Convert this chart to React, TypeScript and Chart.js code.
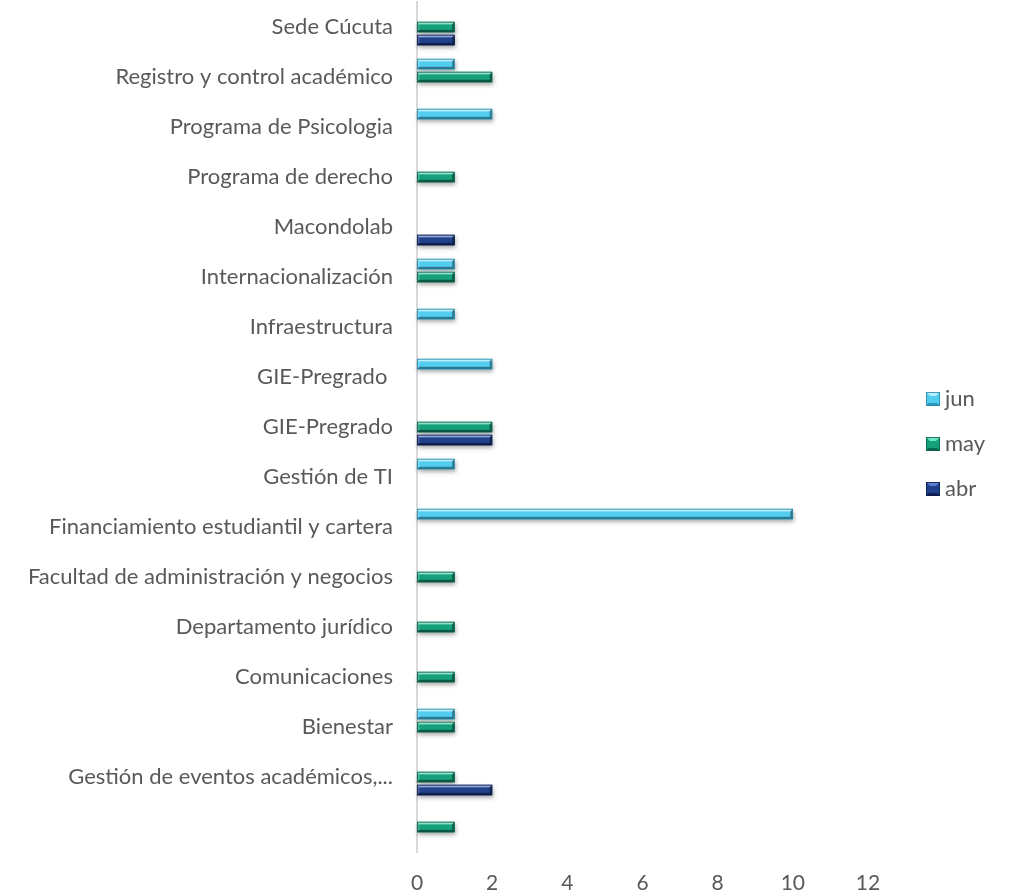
import React, { useEffect, useRef } from "react";
import { Chart, registerables } from "chart.js";

Chart.register(...registerables);

const categories: string[] = [
  "Sede Cúcuta",
  "Registro y control académico",
  "Programa de Psicologia",
  "Programa de derecho",
  "Macondolab",
  "Internacionalización",
  "Infraestructura",
  "GIE-Pregrado ",
  "GIE-Pregrado",
  "Gestión de TI",
  "Financiamiento estudiantil y cartera",
  "Facultad de administración y negocios",
  "Departamento jurídico",
  "Comunicaciones",
  "Bienestar",
  "Gestión de eventos académicos,...",
  "",
];

const junValues: (number | null)[] = [null, 1, 2, null, null, 1, 1, 2, null, 1, 10, null, null, null, 1, null, null];
const mayValues: (number | null)[] = [1, 2, null, 1, null, 1, null, null, 2, null, null, 1, 1, 1, 1, 1, 1];
const abrValues: (number | null)[] = [1, null, null, null, 1, null, null, null, 2, null, null, null, null, null, null, 2, null];

const xTicks: number[] = [0, 2, 4, 6, 8, 10, 12];

const FONT = "Lato, 'Open Sans', sans-serif";
const TEXT = "#595959";

const palette: Record<string, { main: string; light: string; dark: string; border: string }> = {
  jun: { main: "#52cdef", light: "#b4f0ff", dark: "#2796bb", border: "#2a86a6" },
  may: { main: "#15a07b", light: "#6ae6c4", dark: "#0a654d", border: "#0b5f49" },
  abr: { main: "#21418d", light: "#5a7fd0", dark: "#0d2156", border: "#0b1c47" },
};

function drawBevelRect(ctx: CanvasRenderingContext2D, l: number, t: number, r: number, b: number, c: { main: string; light: string; dark: string; border: string }) {
  const w = r - l;
  const h = b - t;
  if (w <= 0 || h <= 0) return;
  const g = ctx.createLinearGradient(0, t, 0, b);
  g.addColorStop(0, c.light);
  g.addColorStop(0.35, c.main);
  g.addColorStop(0.75, c.main);
  g.addColorStop(1, c.dark);
  ctx.fillStyle = g;
  ctx.fillRect(l, t, w, h);
  const bv = Math.min(2.5, h / 3, w / 3);
  ctx.fillStyle = "rgba(255,255,255,0.45)";
  ctx.beginPath();
  ctx.moveTo(l, t); ctx.lineTo(r, t); ctx.lineTo(r - bv, t + bv); ctx.lineTo(l + bv, t + bv); ctx.closePath(); ctx.fill();
  ctx.fillStyle = "rgba(255,255,255,0.2)";
  ctx.beginPath();
  ctx.moveTo(l, t); ctx.lineTo(l + bv, t + bv); ctx.lineTo(l + bv, b - bv); ctx.lineTo(l, b); ctx.closePath(); ctx.fill();
  ctx.fillStyle = "rgba(0,0,0,0.35)";
  ctx.beginPath();
  ctx.moveTo(l, b); ctx.lineTo(r, b); ctx.lineTo(r - bv, b - bv); ctx.lineTo(l + bv, b - bv); ctx.closePath(); ctx.fill();
  ctx.fillStyle = "rgba(0,0,0,0.4)";
  ctx.beginPath();
  ctx.moveTo(r, t); ctx.lineTo(r, b); ctx.lineTo(r - bv, b - bv); ctx.lineTo(r - bv, t + bv); ctx.closePath(); ctx.fill();
  ctx.strokeStyle = c.border;
  ctx.lineWidth = 0.8;
  ctx.strokeRect(l + 0.4, t + 0.4, w - 0.8, h - 0.8);
}

const bevelPlugin = {
  id: "bevelBars",
  beforeDatasetsDraw(chart: any) {
    const ctx: CanvasRenderingContext2D = chart.ctx;
    chart.data.datasets.forEach((ds: any, i: number) => {
      const meta = chart.getDatasetMeta(i);
      meta.data.forEach((el: any, j: number) => {
        if (ds.data[j] == null) return;
        const p = el.getProps(["x", "y", "base", "height"], true);
        ctx.save();
        ctx.shadowColor = "rgba(0,0,0,0.35)";
        ctx.shadowBlur = 4;
        ctx.shadowOffsetX = 1;
        ctx.shadowOffsetY = 2.5;
        ctx.fillStyle = "#ffffff";
        ctx.fillRect(Math.min(p.base, p.x), p.y - p.height / 2, Math.abs(p.x - p.base), p.height);
        ctx.restore();
      });
    });
  },
  afterDatasetsDraw(chart: any) {
    const ctx: CanvasRenderingContext2D = chart.ctx;
    chart.data.datasets.forEach((ds: any, i: number) => {
      const meta = chart.getDatasetMeta(i);
      const c = palette[ds.label];
      meta.data.forEach((el: any, j: number) => {
        if (ds.data[j] == null) return;
        const p = el.getProps(["x", "y", "base", "height"], true);
        ctx.save();
        drawBevelRect(ctx, Math.min(p.base, p.x), p.y - p.height / 2, Math.max(p.base, p.x), p.y + p.height / 2, c);
        ctx.restore();
      });
    });
  },
};

const legendPlugin = {
  id: "sideLegend",
  afterDraw(chart: any) {
    const ctx: CanvasRenderingContext2D = chart.ctx;
    const x0 = 926;
    const yStart = 399;
    const gap = 45;
    ctx.save();
    ctx.font = `22px ${FONT}`;
    ctx.textBaseline = "middle";
    ctx.textAlign = "left";
    chart.data.datasets.forEach((ds: any, i: number) => {
      const y = yStart + i * gap;
      const c = palette[ds.label];
      const s = 14;
      const l = x0, t = y - s / 2, r = x0 + s, b = y + s / 2;
      ctx.fillStyle = c.main;
      ctx.fillRect(l, t, s, s);
      const cx = l + s / 2, cy = t + s / 2;
      ctx.fillStyle = c.light;
      ctx.beginPath(); ctx.moveTo(l, t); ctx.lineTo(r, t); ctx.lineTo(cx, cy); ctx.closePath(); ctx.fill();
      ctx.fillStyle = c.dark;
      ctx.beginPath(); ctx.moveTo(l, b); ctx.lineTo(r, b); ctx.lineTo(cx, cy); ctx.closePath(); ctx.fill();
      ctx.fillStyle = c.main;
      ctx.fillRect(l + 3, t + 4, s - 6, s - 7);
      ctx.strokeStyle = c.border;
      ctx.lineWidth = 0.8;
      ctx.strokeRect(l + 0.4, t + 0.4, s - 0.8, s - 0.8);
      ctx.fillStyle = TEXT;
      ctx.fillText(ds.label, x0 + 19, y);
    });
    ctx.restore();
  },
};

export default function App() {
  const ref = useRef<HTMLCanvasElement | null>(null);
  useEffect(() => {
    if (!ref.current) return;
    const chart = new Chart(ref.current, {
      type: "bar",
      data: {
        labels: categories,
        datasets: [
          { label: "jun", data: junValues, backgroundColor: palette.jun.main, borderWidth: 0 },
          { label: "may", data: mayValues, backgroundColor: palette.may.main, borderWidth: 0 },
          { label: "abr", data: abrValues, backgroundColor: palette.abr.main, borderWidth: 0 },
        ],
      },
      options: {
        indexAxis: "y",
        responsive: false,
        animation: false,
        devicePixelRatio: 1,
        categoryPercentage: 0.78,
        barPercentage: 0.8,
        layout: { padding: { top: 2, right: 147, bottom: 0, left: 0 } },
        plugins: {
          legend: { display: false },
          tooltip: { enabled: false },
        },
        scales: {
          x: {
            min: 0,
            max: 12,
            afterBuildTicks: (scale: any) => {
              scale.ticks = xTicks.map((v) => ({ value: v }));
            },
            afterFit: (scale: any) => {
              scale.height = 41;
              scale.paddingLeft = 0;
              scale.paddingRight = 0;
            },
            grid: { display: false, drawTicks: false },
            border: { display: false },
            ticks: { color: TEXT, font: { family: FONT, size: 21 }, padding: 19 },
          },
          y: {
            afterFit: (scale: any) => {
              scale.width = 417;
              scale.paddingTop = 0;
              scale.paddingBottom = 0;
            },
            grid: { display: false, drawTicks: false },
            border: { display: true, color: "#d9d9d9", width: 2 },
            ticks: { color: TEXT, font: { family: FONT, size: 22 }, padding: 24, autoSkip: false },
          },
        },
      } as any,
      plugins: [bevelPlugin, legendPlugin],
    });
    return () => chart.destroy();
  }, []);
  return (
    <div style={{ position: "absolute", left: 0, top: 0, width: 1015, height: 893, background: "#fff" }}>
      <canvas ref={ref} width={1015} height={893} style={{ display: "block" }} />
    </div>
  );
}
